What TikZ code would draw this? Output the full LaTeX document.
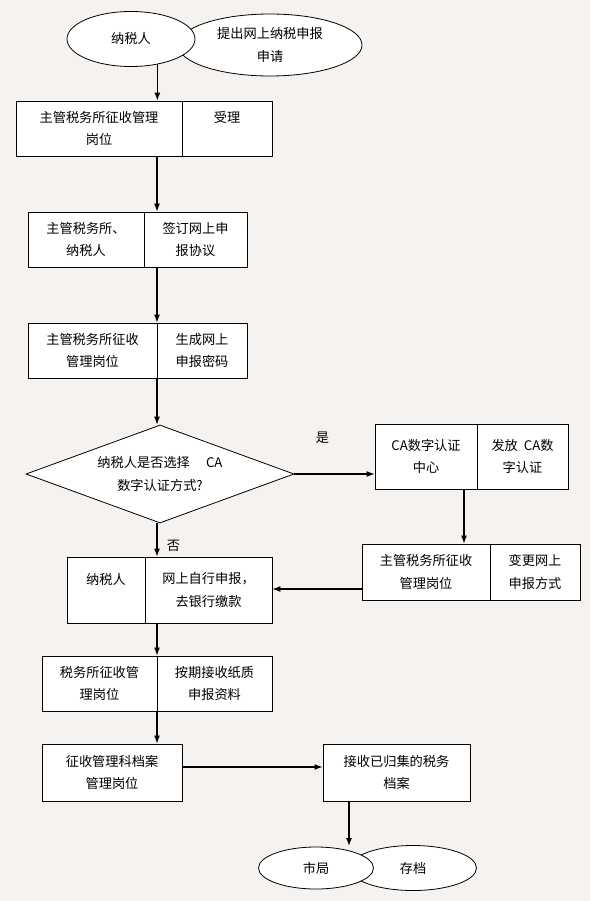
\documentclass[tikz,border=0pt]{standalone}
\usepackage{fontspec}
\newfontfamily\cjk{Noto Sans CJK SC}
\usetikzlibrary{shapes,arrows.meta,positioning}
\definecolor{paper}{RGB}{245,242,240}
\tikzset{cell/.style={draw, fill=white, line width=0.8pt, inner sep=0pt,
    align=center, minimum height=55pt},
  blob/.style={ellipse, draw, fill=white, line width=0.8pt, inner sep=0pt, align=center},
  flow/.style={-{Latex[length=8pt,width=6pt]}, line width=1.2pt}
}
\begin{document}
\begin{tikzpicture}[x=1pt, y=-1pt,
    every node/.style={font=\cjk\fontsize{13.2}{22.5}\selectfont}]
  \path[use as bounding box, fill=paper] (0,0) rectangle (590,901);
  \coordinate (trunk) at (157,0);
  \coordinate (branch) at (464,0);
  \coordinate (back) at (0,589);
  \coordinate (link) at (0,767);
  \coordinate (sink) at (349,846);

  % top
  \node[blob, minimum width=184pt, minimum height=62pt] (apply) at (270,45) {提出网上纳税申报\\申请};
  \node[blob, minimum width=128pt, minimum height=55pt] (taxpayer) at (131,39) {纳税人};

  % main column
  \node[cell, minimum width=166pt] (pos1) at (99,128.5) {主管税务所征收管理\\岗位};
  \node[cell, minimum width=90pt] (act1) at (227,128.5) {受理\\\mbox{}};
  \node[cell, minimum width=116pt] (pos2) at (86,239.5) {主管税务所、\\纳税人};
  \node[cell, minimum width=103pt] (act2) at (195.5,239.5) {签订网上申\\报协议};
  \node[cell, minimum width=129pt] (pos3) at (92.5,350.5) {主管税务所征收\\管理岗位};
  \node[cell, minimum width=90pt] (act3) at (202,350.5) {生成网上\\申报密码};
  \node[diamond, draw, fill=white, line width=0.8pt, inner sep=0pt, aspect=2.7,
    minimum width=268pt, minimum height=98pt, align=center] (query) at (160,474)
    {纳税人是否选择\quad\ CA\\数字认证方式?};

  % CA branch
  \node[cell, minimum width=102pt, minimum height=65pt] (pos4) at (426,456.5) {CA数字认证\\中心};
  \node[cell, minimum width=91pt, minimum height=65pt] (act4) at (522.5,456.5) {发放\ \ CA数\\字认证};
  \node[cell, minimum width=128pt, minimum height=56pt] (pos5) at (426,572) {主管税务所征收\\管理岗位};
  \node[cell, minimum width=90pt, minimum height=56pt] (act5) at (535,572) {变更网上\\申报方式};

  \node[cell, minimum width=78pt, minimum height=66pt] (pos6) at (106,590) {纳税人\\\mbox{}};
  \node[cell, minimum width=127pt, minimum height=66pt] (act6) at (208.5,590) {网上自行申报，\\去银行缴款};
  \node[cell, minimum width=115pt] (pos7) at (99.5,683.5) {税务所征收管\\理岗位};
  \node[cell, minimum width=115pt] (act7) at (214.5,683.5) {按期接收纸质\\申报资料};
  \node[cell, minimum width=140pt, minimum height=57pt] (archive) at (112,772.5) {征收管理科档案\\管理岗位};
  \node[cell, minimum width=147pt, minimum height=57pt] (receive) at (396.5,772.5) {接收已归集的税务\\档案};

  % bottom
  \node[blob, minimum width=127pt, minimum height=45pt] (store) at (413,868) {存档};
  \node[blob, minimum width=115pt, minimum height=42pt] (bureau) at (316,868) {市局};

  \draw[flow] (taxpayer.-44) -- (pos1.north -| taxpayer.-44);
  \draw[flow] (pos1.south -| trunk) -- (act2.north -| trunk);
  \draw[flow] (act2.south -| trunk) -- (act3.north -| trunk);
  \draw[flow] (act3.south -| trunk) -- (query.north -| trunk);
  \draw[flow] (query.south -| trunk) -- (act6.north -| trunk) node[pos=0.68, right=6pt] {否};
  \draw[flow] (query.east) -- (pos4.west |- query.east) node[pos=0.35, above=27pt] {是};
  \draw[flow] (pos4.south -| branch) -- (pos5.north -| branch);
  \draw[flow] (pos5.west |- back) -- (act6.east |- back);
  \draw[flow] (act6.south -| trunk) -- (act7.north -| trunk);
  \draw[flow] (act7.south -| trunk) -- (archive.north -| trunk);
  \draw[flow] (archive.east |- link) -- (receive.west |- link);
  \draw[flow] (receive.south -| sink) -- (sink);
\end{tikzpicture}
\end{document}
